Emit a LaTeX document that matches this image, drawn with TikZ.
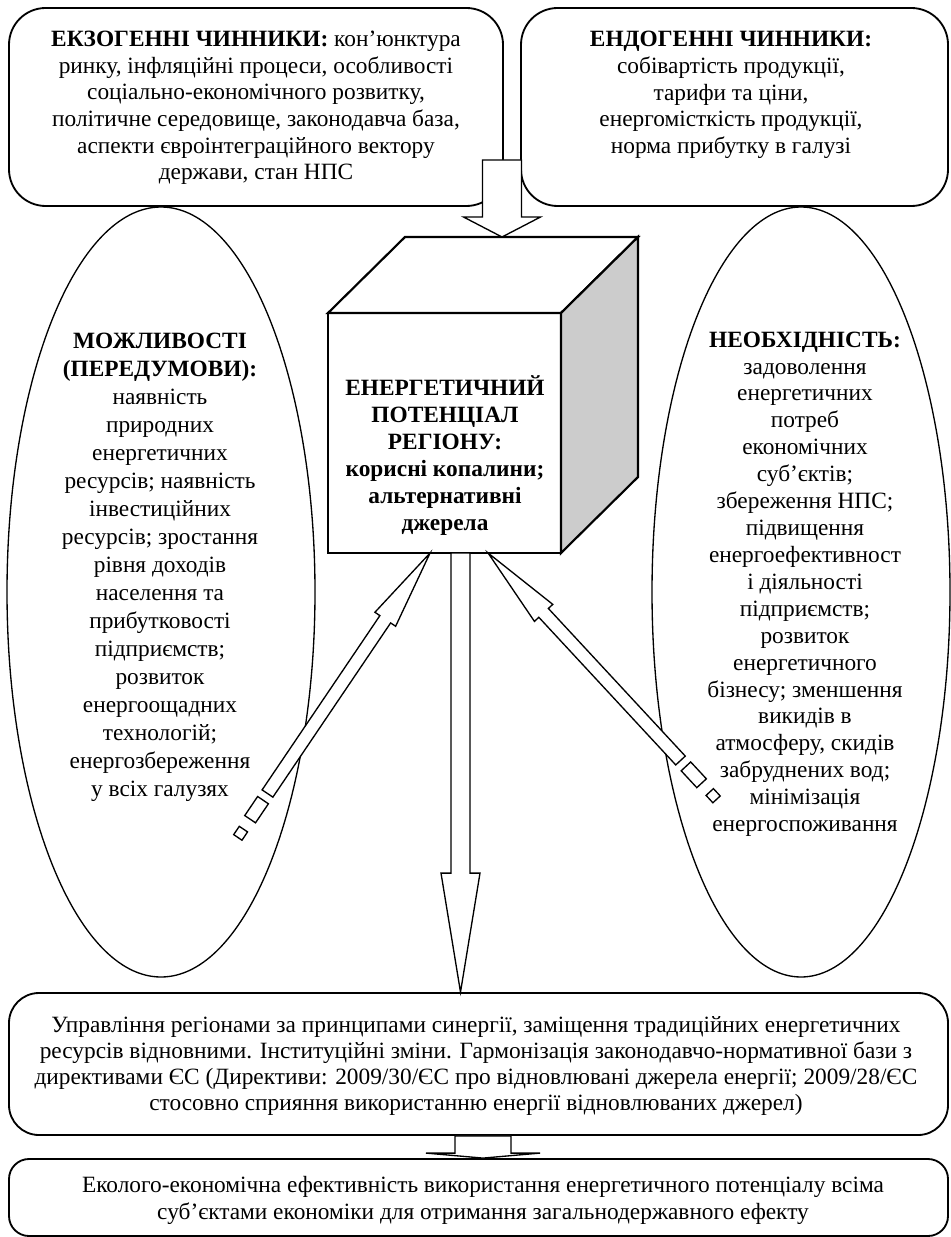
\documentclass[tikz,border=0pt]{standalone}
\usepackage{fontspec}
\setmainfont{Liberation Serif}
\usetikzlibrary{calc, shapes.geometric}

\tikzset{
  box/.style={draw, line width=1.1pt, rounded corners=18pt},
  txt/.style={align=center, inner sep=0pt, font=\fontsize{14}{#1}\selectfont},
  txt/.default=16pt,
  cubetxt/.style={align=center, inner sep=0pt, font=\fontsize{14}{16.2}\selectfont\bfseries},
  oval/.style={draw, ellipse, line width=0.8pt, inner sep=0pt},
  cubeline/.style={draw, line width=1.3pt, line join=miter},
  arrowbody/.style={draw, fill=white, line width=0.8pt, line join=miter},
}

% block arrow: tail, tip, shaft half width, head half width, head length
\newcommand{\blockarrow}[5]{%
  \coordinate (ah) at ($(#2)!#5!(#1)$);
  \draw[arrowbody] ($(#1)!#3!90:(#2)$) -- ($(ah)!#3!90:(#2)$) -- ($(ah)!#4!90:(#2)$)
    -- (#2) -- ($(ah)!#4!-90:(#2)$) -- ($(ah)!#3!-90:(#2)$) -- ($(#1)!#3!-90:(#2)$) -- cycle;
}
% piece behind the tail: tail, tip, from, to, half width
\newcommand{\tailpiece}[5]{%
  \coordinate (sa) at ($(#1)!-#3!(#2)$);
  \coordinate (sb) at ($(#1)!-#4!(#2)$);
  \draw[arrowbody] ($(sa)!#5!90:(#2)$) -- ($(sb)!#5!90:(#2)$) -- ($(sb)!#5!-90:(#2)$) -- ($(sa)!#5!-90:(#2)$) -- cycle;
}

\begin{document}
\begin{tikzpicture}[x=0.6pt, y=-0.6pt]
\useasboundingbox (0,0) rectangle (950,1237);

% factors
\node[box, rounded corners=22pt, minimum width=296.4pt, minimum height=118.8pt] (exo) at (256,107) {};
\node[box, rounded corners=22pt, minimum width=256.2pt, minimum height=118.8pt] (endo) at (734.5,107) {};
\node[txt] (exotext) at (256,108) {\strut\textbf{ЕКЗОГЕННІ ЧИННИКИ:} кон’юнктура\\ ринку, інфляційні процеси, особливості\\ соціально-економічного розвитку,\\ політичне середовище, законодавча база,\\ аспекти євроінтеграційного вектору\\ держави, стан НПС\strut};
\node[txt] (endotext) at (731,95) {\strut\textbf{ЕНДОГЕННІ ЧИННИКИ:}\\ собівартість продукції,\\ тарифи та ціни,\\ енергомісткість продукції,\\ норма прибутку в галузі\strut};

% cube
\node[cubeline, fill=white, outer sep=0pt, minimum width=139.8pt, minimum height=144pt] (cube) at (444.5,433) {};
\draw[cubeline, fill=white] (cube.north west) -- ++(77,-76) coordinate (cubeTL) -- ++(233,0) coordinate (cubeTR) -- (cube.north east) -- cycle;
\draw[cubeline, fill=black!20] (cube.north east) -- (cubeTR) -- ++(0,240) -- (cube.south east) -- cycle;
\node[cubetxt] (cubetext) at (445,457) {\strut ЕНЕРГЕТИЧНИЙ\\ ПОТЕНЦІАЛ\\ РЕГІОНУ:\\ корисні копалини;\\ альтернативні\\ джерела\strut};

% top arrow
\coordinate (toptail) at (502,160);
\coordinate (toptip) at (cubeTL -| toptail);
\blockarrow{toptail}{toptip}{11.7pt}{23.1pt}{12pt}

% ellipses
\node[oval, minimum width=184.8pt, minimum height=462pt] (opp) at (161,592) {};
\node[oval, minimum width=178.8pt, minimum height=462pt] (need) at (801,592) {};
\node[txt=16.8pt] (opptext) at (160,567) {\strut\textbf{МОЖЛИВОСТІ}\\ \textbf{(ПЕРЕДУМОВИ):}\\ наявність\\ природних\\ енергетичних\\ ресурсів; наявність\\ інвестиційних\\ ресурсів; зростання\\ рівня доходів\\ населення та\\ прибутковості\\ підприємств;\\ розвиток\\ енергоощадних\\ технологій;\\ енергозбереження\\ у всіх галузях\strut};
\node[txt=16.15pt] (needtext) at (805,584) {\strut\textbf{НЕОБХІДНІСТЬ:}\\ задоволення\\ енергетичних\\ потреб\\ економічних\\ суб’єктів;\\ збереження НПС;\\ підвищення\\ енергоефективност\\ і діяльності\\ підприємств;\\ розвиток\\ енергетичного\\ бізнесу; зменшення\\ викидів в\\ атмосферу, скидів\\ забруднених вод;\\ мінімізація\\ енергоспоживання\strut};

% results
\node[box, minimum width=563.4pt, minimum height=85.2pt] (mgmt) at (478.5,1064) {};
\node[txt=15.6pt] (mgmttext) at (476,1066) {\strut Управління регіонами за принципами синергії, заміщення традиційних енергетичних\\ ресурсів відновними. Інституційні зміни. Гармонізація законодавчо-нормативної бази з\\ директивами ЄС (Директиви: 2009/30/ЄС про відновлювані джерела енергії; 2009/28/ЄС\\ стосовно сприяння використанню енергії відновлюваних джерел)\strut};
\node[box, rounded corners=12pt, minimum width=563.4pt, minimum height=46.2pt] (effect) at (478.5,1197.5) {};
\node[txt=16.2pt] (effecttext) at (483,1201) {\strut Еколого-економічна ефективність використання енергетичного потенціалу всіма\\ суб’єктами економіки для отримання загальнодержавного ефекту\strut};

% side arrows into the cube
\coordinate (lefttail) at (267.5,793.5);
\coordinate (lefttip) at ($(cube.south west)!0.438!(cube.south east)$);
\blockarrow{lefttail}{lefttip}{3.9pt}{7.5pt}{48pt}
\tailpiece{lefttail}{lefttip}{4.8pt}{18.6pt}{3.9pt}
\tailpiece{lefttail}{lefttip}{25.8pt}{31.8pt}{3pt}

\coordinate (righttail) at (680.5,760.5);
\coordinate (righttip) at ($(cube.south west)!0.687!(cube.south east)$);
\blockarrow{righttail}{righttip}{3.9pt}{7.5pt}{49pt}
\tailpiece{righttail}{righttip}{4.8pt}{18.6pt}{3.9pt}
\tailpiece{righttail}{righttip}{25.8pt}{31.8pt}{3pt}

% down arrows
\coordinate (downtail) at ($(cube.south)+(16,0)$);
\coordinate (downtip) at (mgmt.north -| downtail);
\blockarrow{downtail}{downtip}{5.7pt}{11.7pt}{71.4pt}

\coordinate (linktail) at ($(mgmt.south)+(4.5,0)$);
\coordinate (linktip) at (effect.north -| linktail);
\blockarrow{linktail}{linktip}{16.8pt}{34.2pt}{3pt}

\end{tikzpicture}
\end{document}
